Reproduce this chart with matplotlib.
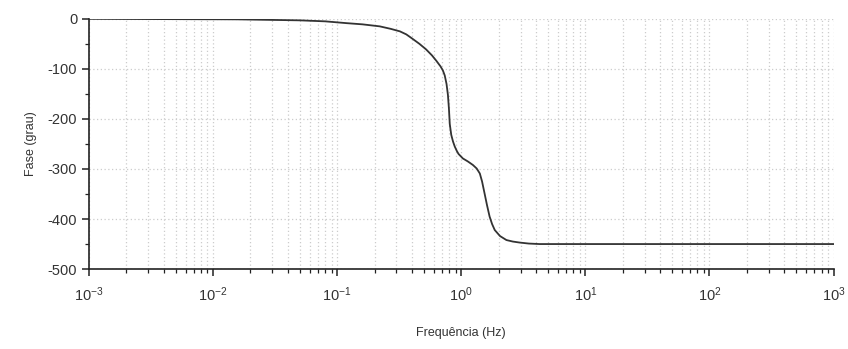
import numpy as np
import matplotlib
matplotlib.use("Agg")
import matplotlib.pyplot as plt
from matplotlib.ticker import LogLocator, MultipleLocator, NullFormatter

# --- dados ---
freq_hz = [0.001, 0.0155, 0.05, 0.08, 0.119, 0.16, 0.22, 0.27, 0.32, 0.36,
           0.40, 0.46, 0.52, 0.58, 0.63, 0.68, 0.71, 0.735, 0.76, 0.78,
           0.795, 0.807, 0.83, 0.857, 0.885, 0.92, 0.95, 1.03, 1.13, 1.24,
           1.33, 1.41, 1.47, 1.54, 1.61, 1.69, 1.77, 1.86, 2.05, 2.31,
           2.6, 2.95, 3.5, 4.27, 1000.0]
fase_grau = [0, -1, -3, -5, -8.6, -11, -15, -20, -25, -31,
             -39, -50, -61, -73, -84, -95, -103, -113, -130, -152,
             -180, -210, -232, -245, -255, -264, -270, -279, -285, -292,
             -299, -309, -325, -349, -372, -395, -410, -422, -434, -442,
             -445, -447, -449, -450, -450]

x_lim = (1e-3, 1e3)
y_lim = (-500, 0)

plt.rcParams['font.family'] = ['Liberation Sans', 'DejaVu Sans']
plt.rcParams['axes.unicode_minus'] = False

fig = plt.figure(figsize=(8.48, 3.49), dpi=100)
ax = fig.add_axes([0.105, 0.229, 0.878, 0.717])

ax.semilogx(freq_hz, fase_grau, color='#333333', lw=1.3)
ax.set_xlim(*x_lim)
ax.set_ylim(*y_lim)

ax.xaxis.set_major_locator(LogLocator(base=10, numticks=10))
ax.xaxis.set_minor_locator(LogLocator(base=10, subs=np.arange(2, 10), numticks=10))
ax.xaxis.set_minor_formatter(NullFormatter())
ax.yaxis.set_major_locator(MultipleLocator(100))
ax.yaxis.set_minor_locator(MultipleLocator(50))

ax.grid(True, which='major', axis='both', color='#cccccc', linestyle=(0, (1, 2)), lw=0.9)
ax.grid(True, which='minor', axis='x', color='#cccccc', linestyle=(0, (1, 2)), lw=0.9)

for s in ['top', 'right']:
    ax.spines[s].set_visible(False)
for s in ['left', 'bottom']:
    ax.spines[s].set_linewidth(1.2)
    ax.spines[s].set_color('#222222')

ax.tick_params(which='major', direction='out', length=5, width=1.1,
               colors='#222222', labelsize=10.5, labelcolor='#333333')
ax.tick_params(which='minor', direction='out', length=3, width=0.9, colors='#222222')
ax.tick_params(axis='x', which='major', pad=7)

ax.set_xlabel('Frequência (Hz)', fontsize=9, color='#333333', labelpad=16)
ax.set_ylabel('Fase (grau)', fontsize=9, color='#333333', labelpad=8)

fig.savefig('out.png', dpi=100, facecolor='white')
